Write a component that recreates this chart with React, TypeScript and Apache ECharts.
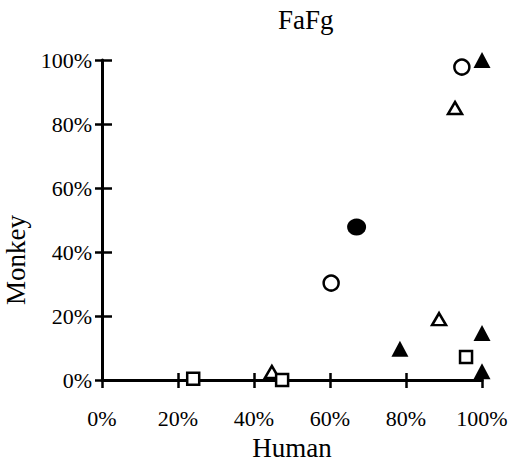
import React, { useEffect, useRef } from "react";
import * as echarts from "echarts";

const titleText = "FaFg";
const xName = "Human";
const yName = "Monkey";
const tickValues = [0, 20, 40, 60, 80, 100];

const openCircles: [number, number][] = [
  [94.7, 97.8],
  [60.3, 30.3],
];
const filledCircles: [number, number][] = [[67, 47.8]];
const openTriangles: [number, number][] = [
  [92.9, 85],
  [88.7, 19],
  [44.7, 2.5],
];
const filledTriangles: [number, number][] = [
  [100, 100],
  [100, 14.7],
  [78.4, 9.8],
  [100, 2.7],
];
const openSquares: [number, number][] = [
  [95.8, 7.2],
  [24, 0.4],
  [47.4, 0],
];

const FONT = "'Liberation Serif', 'Times New Roman', serif";

export default function App() {
  const ref = useRef<HTMLDivElement>(null);
  useEffect(() => {
    if (!ref.current) return;
    const chart = echarts.init(ref.current, null, { renderer: "svg" });
    const axisBase = {
      type: "value" as const,
      min: tickValues[0],
      max: tickValues[tickValues.length - 1],
      interval: 20,
      splitLine: { show: false },
    };
    const openStyle = { color: "#fff", borderColor: "#000", borderWidth: 2.5, opacity: 1 };
    const filledStyle = { color: "#000", opacity: 1 };
    const labelStyle = {
      formatter: "{value}%",
      fontFamily: FONT,
      fontSize: 22,
      color: "#000",
    };
    chart.setOption({
      animation: false,
      backgroundColor: "#fff",
      textStyle: { fontFamily: FONT, color: "#000" },
      title: {
        text: titleText,
        left: 278,
        top: 6,
        padding: 0,
        textStyle: { fontFamily: FONT, fontSize: 27, fontWeight: "normal", color: "#000" },
      },
      grid: { left: 102, right: 37, top: 60, bottom: 84, containLabel: false, outerBoundsMode: "none" },
      xAxis: [
        {
          ...axisBase,
          name: xName,
          nameLocation: "middle",
          nameGap: 54,
          nameTextStyle: { fontFamily: FONT, fontSize: 27, color: "#000" },
          axisLine: { show: true, lineStyle: { color: "#000", width: 3 } },
          axisTick: { show: true, inside: false, length: 8, lineStyle: { color: "#000", width: 2.5 } },
          axisLabel: { ...labelStyle, margin: 27 },
        },
        {
          ...axisBase,
          position: "bottom",
          axisLine: { show: false },
          axisTick: { show: true, inside: true, length: 7, lineStyle: { color: "#000", width: 2.5 } },
          axisLabel: { show: false },
        },
      ],
      yAxis: [
        {
          ...axisBase,
          name: yName,
          nameLocation: "middle",
          nameGap: 69,
          nameRotate: 90,
          nameTextStyle: { fontFamily: FONT, fontSize: 27, color: "#000", padding: [0, 80, 0, 0] },
          axisLine: { show: true, lineStyle: { color: "#000", width: 3 } },
          axisTick: { show: true, inside: false, length: 7, lineStyle: { color: "#000", width: 2.5 } },
          axisLabel: { ...labelStyle, margin: 10 },
        },
        {
          ...axisBase,
          position: "left",
          axisLine: { show: false },
          axisTick: { show: true, inside: true, length: 10, lineStyle: { color: "#000", width: 2.5 } },
          axisLabel: { show: false },
        },
      ],
      series: [
        { type: "scatter", name: "openCircles", data: openCircles, symbol: "circle", symbolSize: 15, itemStyle: openStyle },
        { type: "scatter", name: "filledCircles", data: filledCircles, symbol: "circle", symbolSize: [19, 17], itemStyle: filledStyle },
        { type: "scatter", name: "openTriangles", data: openTriangles, symbol: "triangle", symbolSize: [14, 12], itemStyle: openStyle },
        { type: "scatter", name: "filledTriangles", data: filledTriangles, symbol: "triangle", symbolSize: [17, 16], itemStyle: filledStyle },
        { type: "scatter", name: "openSquares", data: openSquares, symbol: "rect", symbolSize: 12, itemStyle: openStyle },
      ],
    });
    return () => chart.dispose();
  }, []);
  return <div ref={ref} style={{ width: 519, height: 464, position: "absolute", left: 0, top: 0 }} />;
}
